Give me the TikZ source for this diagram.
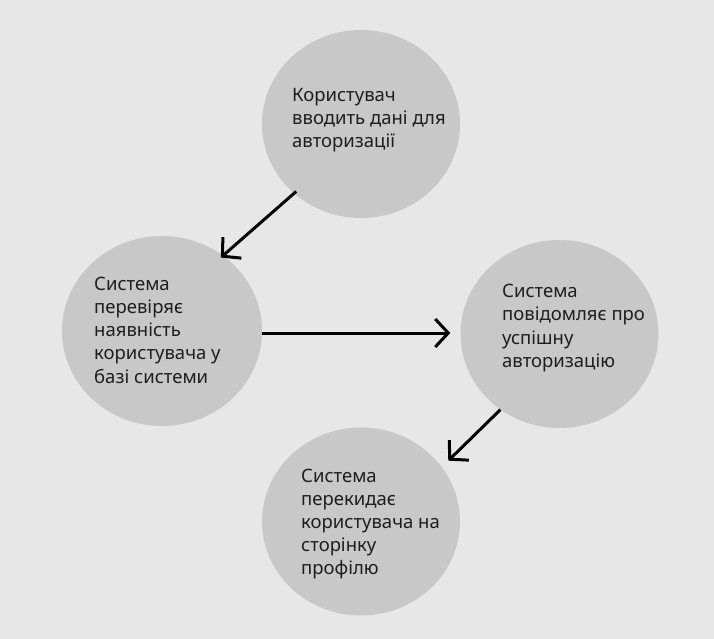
\documentclass[tikz,border=0pt]{standalone}
\usepackage{fontspec}
\setmainfont{Noto Sans}
\usetikzlibrary{arrows.meta,shapes.geometric}
\definecolor{bg}{HTML}{E7E7E7}
\definecolor{circ}{HTML}{C8C8C8}
\definecolor{txt}{HTML}{1E1E1E}
\tikzset{
  stepcircle/.style={ellipse, fill=circ, draw=none, minimum width=198pt, minimum height=188pt, inner sep=0pt},
  steptext/.style={anchor=west, align=left, text=txt, font=\fontsize{18.5}{23.2}\selectfont, inner sep=0pt},
  flow/.style={line width=3pt, draw=black, -{Straight Barb[length=13pt,width=28pt,line width=3pt]}}
}
\begin{document}
\begin{tikzpicture}[x=1pt,y=-1pt]
\fill[bg] (0,0) rectangle (714,639);
\useasboundingbox (0,0) rectangle (714,639);
\node[stepcircle] (c1) at (361,124) {};
\node[stepcircle, minimum width=200pt, minimum height=190pt] (c2) at (162,331) {};
\node[stepcircle] (c3) at (559.5,334) {};
\node[stepcircle] (c4) at (361,521.5) {};
\node[steptext] (t1) at (292,120) {Користувач\\вводить дані для\\авторизації};
\node[steptext] (t2) at (94,330) {Система\\перевіряє\\наявність\\користувача у\\базі системи};
\node[steptext] (t3) at (502,328) {Система\\повідомляє про\\успішну\\авторизацію};
\node[steptext] (t4) at (301,524) {Система\\перекидає\\користувача на\\сторінку\\профілю};
\draw[flow, shorten <=-3pt, shorten >=-3pt] (c1.226) -- (c2.51);
\draw[flow, shorten >=10pt] ([yshift=-2pt]c2.east) -- ([yshift=-2pt]c2.east -| c3.west);
\draw[flow, shorten >=9pt] (c3.232) -- (c4.34.5);
\end{tikzpicture}
\end{document}
